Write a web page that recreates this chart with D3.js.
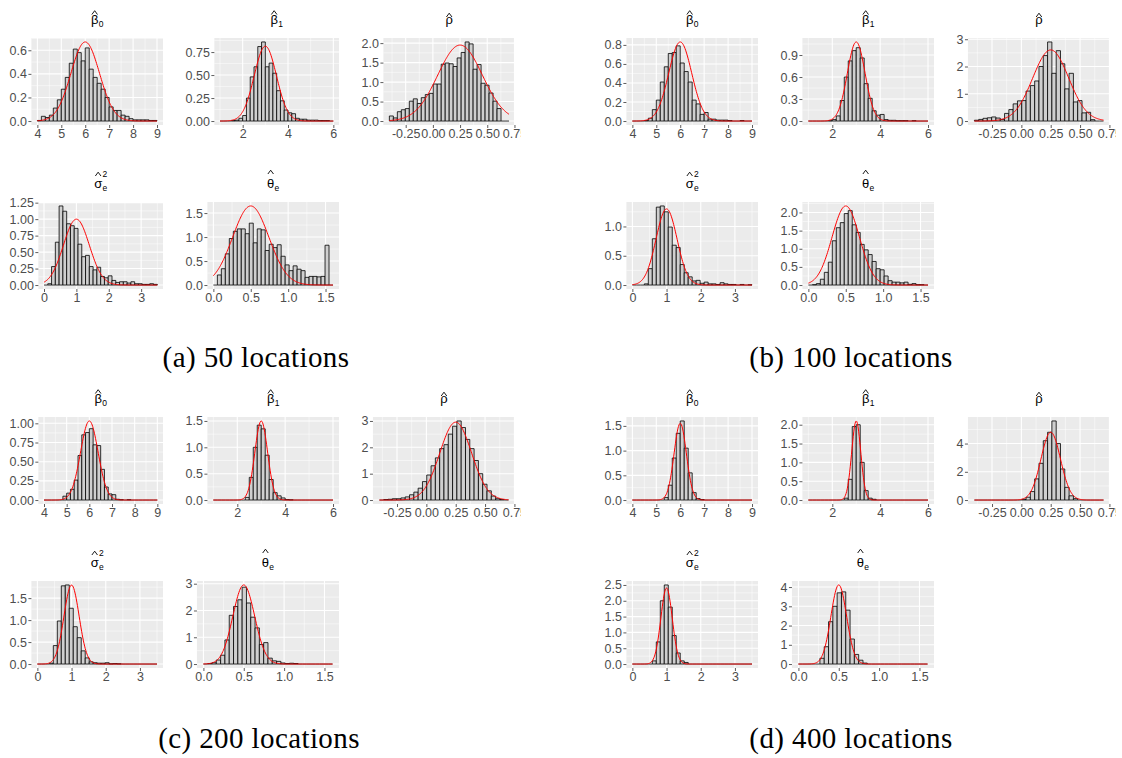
<!DOCTYPE html>
<html>
<head>
<meta charset="utf-8">
<script src="https://cdn.jsdelivr.net/npm/d3@7"></script>
<style>
  body { margin: 0; background: #fff; }
</style>
</head>
<body>
<svg id="fig" width="1122" height="758"></svg>
<script>
// ---- shared settings for the five estimators ----
const titleSymbols = ["β", "β", "ρ", "σ", "θ"];
const titleSubs = ["0", "1", "", "e", "e"];
const titleSups = ["", "", "", "2", ""];
const binLo = [4, 1, -0.4, 0, 0];
const binHi = [9, 6, 0.7, 3.5, 1.6];
const nBins = 30;
const trueMean = [6, 3, 0.25, 1, 0.5];
const xTicks = [[4, 5, 6, 7, 8, 9], [2, 4, 6], [-0.25, 0, 0.25, 0.5, 0.75], [0, 1, 2, 3], [0, 0.5, 1, 1.5]];
const xFormats = ["d", "d", ".2f", "d", ".1f"];

const captions = ["(a) 50 locations", "(b) 100 locations", "(c) 200 locations", "(d) 400 locations"];

// ---- (a) 50 locations: histogram densities (30 bins) ----
const a_beta0 = [0.005, 0.04, 0.03, 0.05, 0.11, 0.18, 0.27, 0.37, 0.49, 0.61, 0.58, 0.51, 0.62, 0.44, 0.37, 0.32, 0.27, 0.20, 0.12, 0.09, 0.09, 0.05, 0.04, 0.02, 0.01, 0.01, 0.01, 0.01, 0.005, 0.005];
const a_beta1 = [0, 0, 0, 0.005, 0.01, 0.03, 0.06, 0.25, 0.48, 0.59, 0.81, 0.86, 0.59, 0.63, 0.52, 0.33, 0.22, 0.12, 0.09, 0.08, 0.03, 0.02, 0.02, 0.01, 0.01, 0.01, 0.005, 0.005, 0.005, 0];
const a_rho = [0.13, 0.08, 0.24, 0.29, 0.32, 0.51, 0.57, 0.45, 0.60, 0.68, 0.71, 0.95, 0.95, 1.46, 1.49, 1.47, 1.40, 1.62, 1.76, 2.03, 1.98, 1.33, 1.45, 0.97, 0.92, 0.72, 0.51, 0.32, 0, 0];
const a_sigma2 = [0, 0.02, 0.28, 0.65, 1.20, 1.12, 0.93, 0.90, 0.86, 0.62, 0.43, 0.45, 0.28, 0.23, 0.27, 0.13, 0.11, 0.14, 0.07, 0.04, 0.05, 0.05, 0.03, 0.05, 0.02, 0.02, 0.01, 0.01, 0.02, 0.01];
const a_theta = [0, 0.21, 0.34, 0.65, 0.97, 1.12, 1.17, 1.17, 1.07, 1.29, 0.88, 1.17, 1.15, 0.72, 0.85, 0.78, 0.84, 0.60, 0.42, 0.30, 0.40, 0.33, 0.30, 0.16, 0.18, 0.18, 0.17, 0.18, 0.83, 0];
const a_sd = [0.595, 0.49, 0.2046, 0.399, 0.242];
const a_yTicks = [[0, 0.2, 0.4, 0.6], [0, 0.25, 0.5, 0.75], [0, 0.5, 1, 1.5, 2], [0, 0.25, 0.5, 0.75, 1, 1.25], [0, 0.5, 1, 1.5]];
const a_yFormats = [".1f", ".2f", ".1f", ".2f", ".1f"];

// ---- (b) 100 locations ----
const b_beta0 = [0, 0, 0, 0.005, 0.03, 0.12, 0.22, 0.41, 0.57, 0.71, 0.72, 0.79, 0.61, 0.52, 0.41, 0.22, 0.18, 0.07, 0.09, 0.02, 0.02, 0.01, 0.01, 0.01, 0.005, 0, 0, 0.005, 0, 0];
const b_beta1 = [0, 0, 0, 0, 0, 0.005, 0.02, 0.07, 0.28, 0.60, 0.82, 0.96, 1.00, 0.86, 0.51, 0.31, 0.14, 0.08, 0.09, 0.02, 0.01, 0.01, 0.005, 0.005, 0.005, 0, 0.005, 0, 0, 0];
const b_rho = [0.03, 0.06, 0.10, 0.12, 0.15, 0.11, 0.06, 0.28, 0.42, 0.63, 0.74, 0.75, 1.10, 1.30, 1.47, 2.00, 2.40, 2.90, 1.75, 2.58, 2.10, 1.18, 1.75, 0.70, 0.75, 0.30, 0.32, 0.05, 0, 0];
const b_sigma2 = [0, 0, 0, 0.02, 0.28, 0.79, 1.33, 1.35, 1.25, 0.99, 0.68, 0.64, 0.35, 0.21, 0.14, 0.07, 0.08, 0.03, 0.05, 0.02, 0.02, 0.01, 0.04, 0.02, 0.01, 0.01, 0, 0.01, 0, 0.005];
const b_theta = [0, 0.01, 0.04, 0.16, 0.35, 0.63, 1.22, 1.58, 1.72, 1.97, 2.05, 1.66, 1.45, 1.12, 0.97, 0.84, 0.65, 0.45, 0.42, 0.25, 0.12, 0.08, 0.08, 0.06, 0.08, 0.02, 0.04, 0.01, 0.01, 0];
const b_sd = [0.48, 0.37, 0.153, 0.307, 0.183];
const b_yTicks = [[0, 0.2, 0.4, 0.6, 0.8], [0, 0.3, 0.6, 0.9], [0, 1, 2, 3], [0, 0.5, 1], [0, 0.5, 1, 1.5, 2]];
const b_yFormats = [".1f", ".1f", "d", ".1f", ".1f"];

// ---- (c) 200 locations ----
const c_beta0 = [0, 0, 0, 0, 0, 0.05, 0.09, 0.14, 0.26, 0.58, 0.85, 0.88, 0.93, 0.72, 0.71, 0.40, 0.17, 0.08, 0.07, 0.01, 0.005, 0, 0.005, 0, 0, 0, 0, 0, 0, 0];
const c_beta1 = [0, 0, 0, 0, 0, 0, 0, 0, 0.05, 0.43, 1.00, 1.42, 1.35, 0.85, 0.39, 0.14, 0.08, 0.04, 0.01, 0.005, 0, 0, 0, 0, 0, 0, 0, 0, 0, 0];
const c_rho = [0, 0.02, 0.03, 0.05, 0.05, 0.08, 0.12, 0.2, 0.3, 0.45, 0.7, 0.95, 1.3, 1.6, 1.95, 2.1, 2.5, 2.8, 3.0, 2.75, 2.3, 1.95, 1.5, 1.0, 0.6, 0.35, 0.15, 0.05, 0.02, 0];
const c_sigma2 = [0, 0, 0, 0.02, 0.42, 0.98, 1.78, 1.80, 1.27, 0.85, 0.60, 0.30, 0.14, 0.05, 0.03, 0.02, 0.02, 0.03, 0.005, 0.01, 0.005, 0, 0, 0, 0, 0, 0, 0, 0, 0];
const c_theta = [0, 0.02, 0.05, 0.15, 0.33, 0.90, 1.82, 2.15, 2.40, 2.87, 2.28, 1.75, 1.35, 0.73, 0.80, 0.22, 0.12, 0.10, 0.04, 0.02, 0.03, 0.02, 0, 0, 0, 0, 0, 0, 0, 0];
const c_sd = [0.387, 0.266, 0.135, 0.222, 0.135];
const c_yTicks = [[0, 0.25, 0.5, 0.75, 1], [0, 0.5, 1, 1.5], [0, 1, 2, 3], [0, 0.5, 1, 1.5], [0, 1, 2, 3]];
const c_yFormats = [".2f", ".1f", "d", ".1f", "d"];

// ---- (d) 400 locations ----
const d_beta0 = [0, 0, 0, 0, 0, 0, 0, 0, 0.05, 0.3, 0.85, 1.35, 1.6, 1.05, 0.55, 0.15, 0.03, 0.01, 0, 0, 0, 0, 0, 0, 0, 0, 0, 0, 0, 0];
const d_beta1 = [0, 0, 0, 0, 0, 0, 0, 0, 0, 0.05, 0.55, 1.95, 2.0, 1.0, 0.25, 0.05, 0.02, 0, 0, 0, 0, 0, 0, 0, 0, 0, 0, 0, 0, 0];
const d_rho = [0, 0, 0, 0, 0, 0, 0, 0, 0, 0, 0, 0.05, 0.2, 0.6, 1.5, 2.6, 4.2, 4.8, 5.6, 4.0, 2.2, 0.9, 0.3, 0.1, 0, 0, 0, 0, 0, 0];
const d_sigma2 = [0, 0, 0, 0, 0, 0.1, 0.7, 2.0, 2.5, 1.8, 0.9, 0.35, 0.1, 0.05, 0, 0, 0, 0, 0, 0, 0, 0, 0, 0, 0, 0, 0, 0, 0, 0];
const d_theta = [0, 0, 0, 0, 0, 0.3, 0.9, 2.2, 3.0, 3.7, 3.75, 2.8, 1.3, 0.5, 0.2, 0.05, 0, 0, 0, 0, 0, 0, 0, 0, 0, 0, 0, 0, 0, 0];
const d_sd = [0.257, 0.19, 0.083, 0.166, 0.097];
const d_yTicks = [[0, 0.5, 1, 1.5], [0, 0.5, 1, 1.5, 2], [0, 2, 4], [0, 0.5, 1, 1.5, 2, 2.5], [0, 1, 2, 3, 4]];
const d_yFormats = [".1f", ".1f", "d", ".1f", "d"];

const panels = [
    {hist: [a_beta0, a_beta1, a_rho, a_sigma2, a_theta], sd: a_sd, yTicks: a_yTicks, yFmt: a_yFormats},
    {hist: [b_beta0, b_beta1, b_rho, b_sigma2, b_theta], sd: b_sd, yTicks: b_yTicks, yFmt: b_yFormats},
    {hist: [c_beta0, c_beta1, c_rho, c_sigma2, c_theta], sd: c_sd, yTicks: c_yTicks, yFmt: c_yFormats},
    {hist: [d_beta0, d_beta1, d_rho, d_sigma2, d_theta], sd: d_sd, yTicks: d_yTicks, yFmt: d_yFormats}
];

// ---- layout ----
const FONT = "'Liberation Sans', Arial, sans-serif";
const groupX = [2, 597, 2, 597];
const groupY = [38, 38, 417, 417];
const rowStep = 164;
const cellW = 176;
const panelH = 87;
const captionX = [256, 851, 259, 851];
const captionY = [367, 367, 748, 748];
const hatOffset = [9.5, 9.5, 7, 12, 14];

const svg = d3.select("#fig");
const loc = d3.formatLocale({decimal: ".", thousands: ",", grouping: [3], currency: ["", ""], minus: "-"});
let clipId = 0;

function textWidth(str, size) {
    const t = svg.append("text").attr("font-size", size).attr("font-family", FONT).text(str);
    const w = t.node().getComputedTextLength();
    t.remove();
    return w;
}

// minor breaks halfway between majors, kept inside the domain
function minors(ticks, dom) {
    const step = ticks[1] - ticks[0];
    const out = ticks.map(t => t - step / 2).concat([ticks[ticks.length - 1] + step / 2]);
    return out.filter(v => v >= dom[0] && v <= dom[1]);
}

function drawTitle(g, k, cx, baseline) {
    const t = g.append("g").attr("font-family", FONT);
    const main = t.append("text").attr("font-size", 13).text(titleSymbols[k]);
    const mw = main.node().getComputedTextLength();
    let extra = 0;
    if (titleSubs[k]) {
        const s = t.append("text").attr("x", mw + 0.3).attr("y", 3).attr("font-size", 8.5).text(titleSubs[k]);
        extra = Math.max(extra, s.node().getComputedTextLength() + 0.3);
    }
    if (titleSups[k]) {
        const s = t.append("text").attr("x", mw + 0.3).attr("y", -11.5).attr("font-size", 8.5).text(titleSups[k]);
        extra = Math.max(extra, s.node().getComputedTextLength() + 0.3);
    }
    // the hat over the symbol
    const hx = mw / 2, hy = -hatOffset[k];
    t.append("path")
        .attr("d", `M${hx - 2.8},${hy} L${hx},${hy - 3.8} L${hx + 2.8},${hy}`)
        .attr("fill", "none")
        .attr("stroke", "#000")
        .attr("stroke-width", 0.9);
    t.attr("transform", `translate(${cx - (mw + extra) / 2},${baseline})`);
}

function drawHist(p, k, left, top) {
    const hist = p.hist[k];
    const sd = p.sd[k];
    const lo = binLo[k], hi = binHi[k];
    const bw = (hi - lo) / nBins;
    const pad = (hi - lo) * 0.05;

    // red normal curve
    const dens = v => Math.exp(-0.5 * ((v - trueMean[k]) / sd) ** 2) / (sd * Math.sqrt(2 * Math.PI));
    const curve = d3.range(0, 201).map(i => {
        const v = lo + (hi - lo) * i / 200;
        return [v, dens(v)];
    });
    const ymax = Math.max(d3.max(hist), d3.max(curve, d => d[1]));

    const yFmt = loc.format(p.yFmt[k]);
    const lw = d3.max(p.yTicks[k], t => textWidth(yFmt(t), 12.5));
    const x0 = left + 8 + lw + 4;
    const x1 = left + cellW - 15;

    const x = d3.scaleLinear().domain([lo - pad, hi + pad]).range([x0, x1]);
    const y = d3.scaleLinear().domain([-0.05 * ymax, 1.05 * ymax]).range([top + panelH, top]);

    const g = svg.append("g");

    // panel background and grid
    g.append("rect")
        .attr("x", x0).attr("y", top)
        .attr("width", x1 - x0).attr("height", panelH)
        .attr("fill", "#EBEBEB");

    g.selectAll(".vminor")
        .data(minors(xTicks[k], x.domain()))
        .enter().append("line")
        .attr("x1", d => x(d)).attr("x2", d => x(d))
        .attr("y1", top).attr("y2", top + panelH)
        .attr("stroke", "#fff").attr("stroke-width", 0.5);
    g.selectAll(".hminor")
        .data(minors(p.yTicks[k], y.domain()))
        .enter().append("line")
        .attr("x1", x0).attr("x2", x1)
        .attr("y1", d => y(d)).attr("y2", d => y(d))
        .attr("stroke", "#fff").attr("stroke-width", 0.5);
    g.selectAll(".vmajor")
        .data(xTicks[k])
        .enter().append("line")
        .attr("x1", d => x(d)).attr("x2", d => x(d))
        .attr("y1", top).attr("y2", top + panelH)
        .attr("stroke", "#fff").attr("stroke-width", 1.1);
    g.selectAll(".hmajor")
        .data(p.yTicks[k])
        .enter().append("line")
        .attr("x1", x0).attr("x2", x1)
        .attr("y1", d => y(d)).attr("y2", d => y(d))
        .attr("stroke", "#fff").attr("stroke-width", 1.1);

    // bars (zero bins still show their outline on the baseline)
    g.selectAll(".bar")
        .data(hist)
        .enter().append("path")
        .attr("d", (h, i) => {
            const a = x(lo + i * bw), b = x(lo + (i + 1) * bw);
            if (h <= 0) return `M${a},${y(0)}H${b}`;
            return `M${a},${y(0)}V${y(h)}H${b}V${y(0)}Z`;
        })
        .attr("fill", "#CFCFCF")
        .attr("stroke", "#000")
        .attr("stroke-width", 0.8);

    g.append("path")
        .datum(curve)
        .attr("d", d3.line().x(d => x(d[0])).y(d => y(d[1])))
        .attr("fill", "none")
        .attr("stroke", "red")
        .attr("stroke-width", 1);

    // axes; the x labels are cut just past the panel edge, as in the figure
    const id = "clip" + (clipId++);
    svg.append("clipPath").attr("id", id)
        .append("rect")
        .attr("x", x0 - 40).attr("y", 0)
        .attr("width", x1 - x0 + 46).attr("height", 30);

    const gx = g.append("g")
        .attr("transform", `translate(0,${top + panelH})`)
        .attr("clip-path", `url(#${id})`)
        .call(d3.axisBottom(x).tickValues(xTicks[k]).tickFormat(loc.format(xFormats[k]))
            .tickSize(3).tickPadding(1.5).tickSizeOuter(0));
    const gy = g.append("g")
        .attr("transform", `translate(${x0},0)`)
        .call(d3.axisLeft(y).tickValues(p.yTicks[k]).tickFormat(yFmt)
            .tickSize(3).tickPadding(1.5).tickSizeOuter(0));
    [gx, gy].forEach(ax => {
        ax.attr("font-size", 12.5).attr("font-family", FONT);
        ax.select(".domain").remove();
        ax.selectAll("line").attr("stroke", "#333").attr("stroke-width", 0.8);
        ax.selectAll("text").attr("fill", "#4D4D4D");
    });

    drawTitle(g, k, (x0 + x1) / 2, top - 14);
}

panels.forEach((p, pi) => {
    for (let k = 0; k < 5; k++) {
        const row = k < 3 ? 0 : 1;
        const col = k < 3 ? k : k - 3;
        drawHist(p, k, groupX[pi] + col * cellW, groupY[pi] + row * rowStep);
    }
    svg.append("text")
        .attr("x", captionX[pi])
        .attr("y", captionY[pi])
        .attr("text-anchor", "middle")
        .attr("font-family", "'Liberation Serif', 'Times New Roman', serif")
        .attr("font-size", 29)
        .attr("letter-spacing", 0.4)
        .text(captions[pi]);
});
</script>
</body>
</html>
